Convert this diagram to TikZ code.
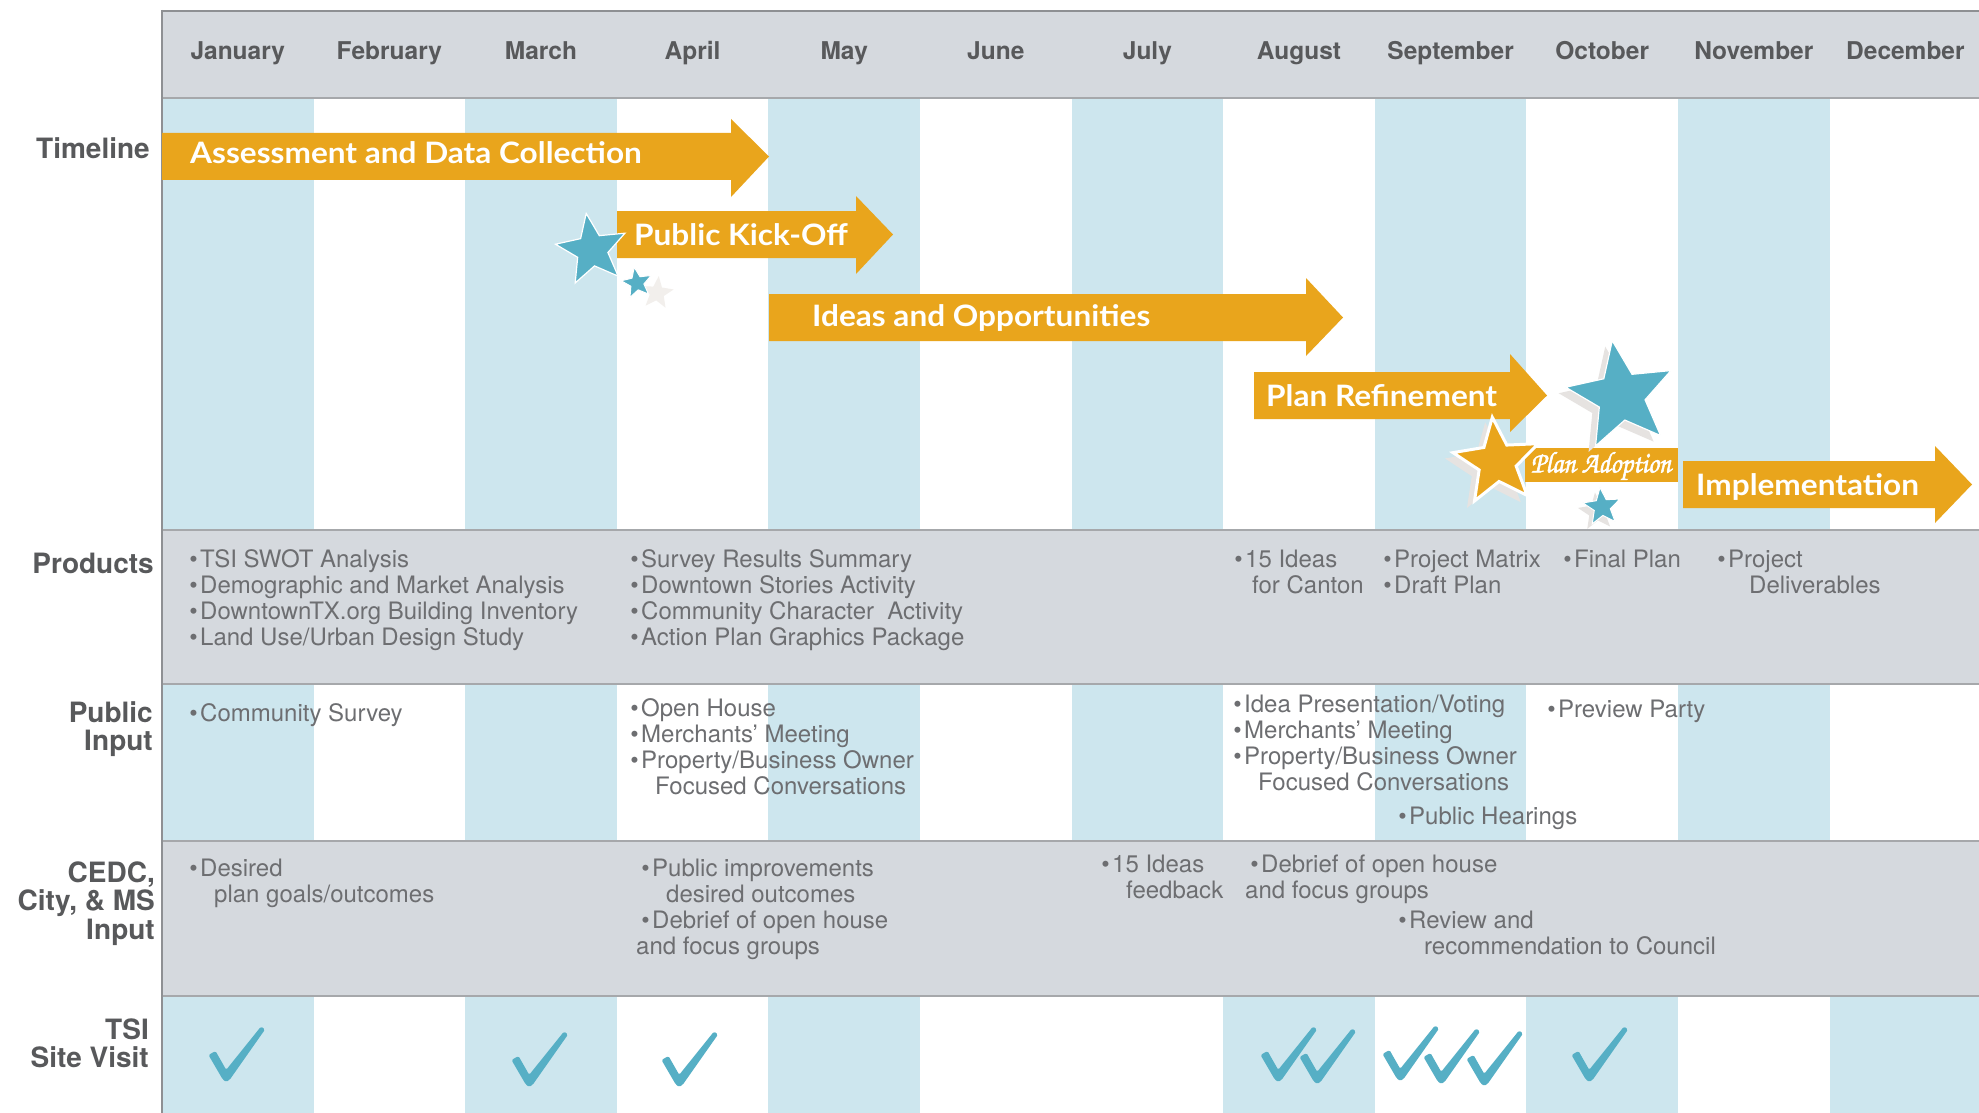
\documentclass[tikz,border=0pt]{standalone}
\usepackage{fontspec}
\usetikzlibrary{shapes.geometric}
\newfontfamily\hel{TeX Gyre Heros}
\newfontfamily\barfont[FakeStretch=1.07]{Lato}
\newfontfamily\scr[FakeBold=1.8, FakeStretch=0.9]{TeX Gyre Chorus}
\definecolor{hdr}{HTML}{D5D9DE}
\definecolor{strp}{HTML}{CDE6EE}
\definecolor{org}{HTML}{E9A51C}
\definecolor{tealc}{HTML}{56AFC5}
\definecolor{rulec}{HTML}{A6A8AB}
\definecolor{borderc}{HTML}{8E9093}
\definecolor{dark}{HTML}{58595B}
\definecolor{txt}{HTML}{6D6E71}
\definecolor{pale}{HTML}{F2EFEC}
\definecolor{shad}{HTML}{E6E3E1}
% bulleted line: text starts at x, bullet hangs to the left
\newcommand\bb[4]{\node[body] (#1) at (#2,#3) {\llap{•\hspace{2.5pt}}#4};}
% plain continuation line
\newcommand\bt[4]{\node[body] (#1) at (#2,#3) {#4};}
\begin{document}
\begin{tikzpicture}[x=1pt,y=-1pt,
  month/.style={font=\hel\fontsize{24.5}{28}\selectfont\bfseries, text=dark, inner sep=0, anchor=base},
  lab/.style={font=\hel\fontsize{28}{30}\selectfont\bfseries, text=dark, inner sep=0, anchor=base east},
  body/.style={font=\hel\fontsize{24}{26}\selectfont, text=txt, inner sep=0, anchor=base west},
  bartext/.style={font=\barfont\fontsize{29.5}{31}\selectfont\bfseries, text=white, inner sep=0, anchor=base west},
  starshape/.style={star, star points=5, star point ratio=2.3, inner sep=0},
  chk/.pic={\fill[tealc, rounded corners=1.5] (-3.5,2) -- (3.5,-2) -- (14.2,16.8) -- (49,-26.5) -- (53,-23.5) -- (17.8,26.6) -- (14,29) -- (10.5,26) -- cycle;},
  sep/.style={rulec, line width=2.5}
]
\fill[white] (0,0) rectangle (1979,1113);
\useasboundingbox (0,0) rectangle (1979,1113);
% header and bands
\fill[hdr] (162,11) rectangle (1979,98);
\foreach \i in {0,2,4,6,8,10} \fill[strp] ({162+\i*151.6},98) rectangle ({162+(\i+1)*151.6},530);
\fill[hdr] (162,530) rectangle (1979,684);
\foreach \i in {0,2,4,6,8,10} \fill[strp] ({162+\i*151.6},684) rectangle ({162+(\i+1)*151.6},841);
\fill[hdr] (162,841) rectangle (1979,996);
\foreach \i in {0,2,4,7,9,11} \fill[strp] ({162+\i*151.6},996) rectangle ({162+(\i+1)*151.6},1113);
% rules
\draw[borderc, line width=2.5] (162,11) -- (1979,11);
\draw[sep] (162,98) -- (1979,98);
\draw[sep] (162,530) -- (1979,530);
\draw[sep] (162,684) -- (1979,684);
\draw[sep] (162,841) -- (1979,841);
\draw[sep] (162,996) -- (1979,996);
\draw[borderc, line width=2.5] (162,10) -- (162,1113);
% months
\foreach \m [count=\i] in {January,February,March,April,May,June,July,August,September,October,November,December}
  \node[month] (m\i) at ({162+(\i-0.5)*151.6},60) {\m};
% row labels
\node[lab] (lt) at (150,159) {Timeline};
\node[lab] (lp) at (154,573) {Products};
\node[lab] (lpi1) at (153,722.5) {Public};
\node[lab] (lpi2) at (153,750) {Input};
\node[lab] (lc1) at (155,882) {CEDC,};
\node[lab] (lc2) at (155,910.5) {City, \& MS};
\node[lab] (lc3) at (155,939) {Input};
\node[lab] (ls1) at (149,1039) {TSI};
\node[lab] (ls2) at (149,1067) {Site Visit};
% timeline arrows
\fill[org] (162,133) -- (731,133) -- (731,119) -- (769,156.5) -- (731,197) -- (731,180) -- (162,180) -- cycle;
\fill[org] (617,211) -- (856,211) -- (856,196) -- (893,234.5) -- (856,274) -- (856,258) -- (617,258) -- cycle;
\fill[org] (769,294) -- (1306,294) -- (1306,278) -- (1343,317.5) -- (1306,356) -- (1306,341) -- (769,341) -- cycle;
\fill[org] (1254,372) -- (1510,372) -- (1510,354) -- (1547,395.5) -- (1510,432) -- (1510,419) -- (1254,419) -- cycle;
\fill[org] (1683,461) -- (1935,461) -- (1935,446) -- (1972,484.5) -- (1935,523) -- (1935,508) -- (1683,508) -- cycle;
\node[bartext] (a1) at (190,164) {Assessment and Data Collection};
\node[bartext] (a2) at (634,245.7) {Public Kick-Off};
\node[bartext] (a3) at (812,326.7) {Ideas and Opportunities};
\node[bartext] (a4) at (1266,406) {Plan Refinement};
\node[bartext] (a5) at (1696,495) {Implementation};
% plan adoption
\fill[org] (1525,448) rectangle (1678,482);
\node[font=\scr\fontsize{30}{32}\selectfont, text=white, inner sep=0] (pa) at (1601,466) {Plan Adoption};
% stars
\node[starshape, minimum size=74, fill=tealc, draw=white, line width=1.2, rotate=9] (s1) at (592,250) {};
\node[starshape, minimum size=34, fill=pale, rotate=-6] (s3) at (657,293) {};
\node[starshape, minimum size=32, fill=tealc, draw=white, line width=1, rotate=10] (s2) at (637,283) {};
\node[starshape, minimum size=112, fill=shad, rotate=9] (s4s) at (1614,402) {};
\node[starshape, minimum size=112, fill=tealc, draw=white, line width=1.2, rotate=9] (s4) at (1621,396) {};
\node[starshape, minimum size=92, fill=shad, rotate=6] (s5s) at (1490,468) {};
\node[starshape, minimum size=90, fill=org, draw=white, line width=3, rotate=6] (s5) at (1497,462) {};
\node[starshape, minimum size=39, fill=shad, rotate=6] (s6s) at (1597,512) {};
\node[starshape, minimum size=39, fill=tealc, draw=white, line width=1, rotate=6] (s6) at (1602,507) {};
% products
\bb{p1}{200}{567}{TSI SWOT Analysis}
\bb{p2}{200}{593}{Demographic and Market Analysis}
\bb{p3}{200}{619}{DowntownTX.org Building Inventory}
\bb{p4}{200}{645}{Land Use/Urban Design Study}
\bb{p5}{641}{567}{Survey Results Summary}
\bb{p6}{641}{593}{Downtown Stories Activity}
\bb{p7}{641}{619}{Community Character\ \ Activity}
\bb{p8}{641}{645}{Action Plan Graphics Package}
\bb{p9}{1245}{567}{15 Ideas}
\bt{p10}{1252}{593}{for Canton}
\bb{p11}{1394}{567}{Project Matrix}
\bb{p12}{1394}{593}{Draft Plan}
\bb{p13}{1574}{567}{Final Plan}
\bb{p14}{1728}{567}{Project}
\bt{p15}{1749}{593}{Deliverables}
% public input
\bb{q1}{200}{721.5}{Community Survey}
\bb{q2}{641}{716}{Open House}
\bb{q3}{641}{742}{Merchants’ Meeting}
\bb{q4}{641}{768}{Property/Business Owner}
\bt{q5}{655}{794}{Focused Conversations}
\bb{q6}{1244}{712}{Idea Presentation/Voting}
\bb{q7}{1244}{738}{Merchants’ Meeting}
\bb{q8}{1244}{764}{Property/Business Owner}
\bt{q9}{1258}{790}{Focused Conversations}
\bb{q10}{1409}{824}{Public Hearings}
\bb{q11}{1558}{717}{Preview Party}
% CEDC
\bb{c1}{200}{876}{Desired}
\bt{c2}{214}{902}{plan goals/outcomes}
\bb{c3}{652}{876}{Public improvements}
\bt{c4}{666}{902}{desired outcomes}
\bb{c5}{652}{928}{Debrief of open house}
\bt{c6}{636}{954}{and focus groups}
\bb{c7}{1112}{872}{15 Ideas}
\bt{c8}{1126}{898}{feedback}
\bb{c9}{1261}{872}{Debrief of open house}
\bt{c10}{1245}{898}{and focus groups}
\bb{c11}{1409}{928}{Review and}
\bt{c12}{1424}{954}{recommendation to Council}
% site visits
\foreach \p in {(212,1053),(515,1058),(665,1058),(1264,1053),(1303,1055),(1386,1052),(1427,1055),(1470,1057),(1575,1053)}
  \pic at \p {chk};
\end{tikzpicture}
\end{document}
